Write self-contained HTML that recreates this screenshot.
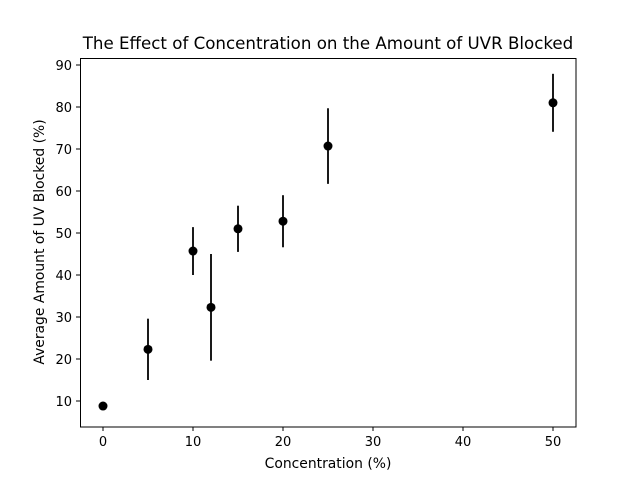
<!DOCTYPE html>
<html><head><meta charset="utf-8"><style>
body{margin:0;background:#fff;}
svg{display:block;font-family:"DejaVu Sans","Liberation Sans",sans-serif;}
</style></head><body>
<svg id="chart" width="640" height="480">
<rect x="0" y="0" width="640" height="480" fill="#fff"/>
<text x="328" y="49" text-anchor="middle" font-size="16.67">The Effect of Concentration on the Amount of UVR Blocked</text>
<g id="axes"></g>
<g id="marks"></g>
<rect x="80.5" y="58.5" width="495.5" height="368.5" fill="none" stroke="#000" stroke-width="1"/>
<text x="328" y="468" text-anchor="middle" font-size="13.9">Concentration (%)</text>
<text transform="translate(44,242) rotate(-90)" text-anchor="middle" font-size="13.9">Average Amount of UV Blocked (%)</text>
</svg>
<script>
const concentrations=[0,5,10,12,15,20,25,50];
const meanBlocked=[8.8,22.3,45.7,32.3,51.0,52.8,70.7,81.0];
const errBlocked=[0.6,7.3,5.7,12.7,5.5,6.2,9.0,6.9];
const xTicks=[0,10,20,30,40,50];
const yTicks=[10,20,30,40,50,60,70,80,90];
const NS="http://www.w3.org/2000/svg";
const x=v=>103+v*9;
const y=v=>401-(v-10)*4.2;
const axes=document.getElementById('axes'),marks=document.getElementById('marks');
function mk(t,a,p){const e=document.createElementNS(NS,t);for(const k in a)e.setAttribute(k,a[k]);p.appendChild(e);return e;}
xTicks.forEach(t=>{
 const l=mk('line',{x1:x(t),x2:x(t),y1:427,y2:431,stroke:'#000'},axes);
 
 
 const tx=mk('text',{x:x(t),y:446,'text-anchor':'middle','font-size':13},axes);tx.textContent=t;
 
 
});
yTicks.forEach(t=>{
 const l=mk('line',{x1:76,x2:80,y1:y(t),y2:y(t),stroke:'#000'},axes);
 
 
 const tx=mk('text',{x:72,y:y(t)+5,'text-anchor':'end','font-size':13},axes);tx.textContent=t;
 
 
});
concentrations.forEach((c,i)=>{
 const e=mk('line',{x1:x(c),x2:x(c),y1:y(meanBlocked[i]-errBlocked[i]),y2:y(meanBlocked[i]+errBlocked[i]),stroke:'#000','stroke-width':1.8},marks);
 
 
 const p=mk('circle',{cx:x(c),cy:y(meanBlocked[i]),r:4.5,fill:'#000'},marks);
 
 
});
</script>
</body></html>
